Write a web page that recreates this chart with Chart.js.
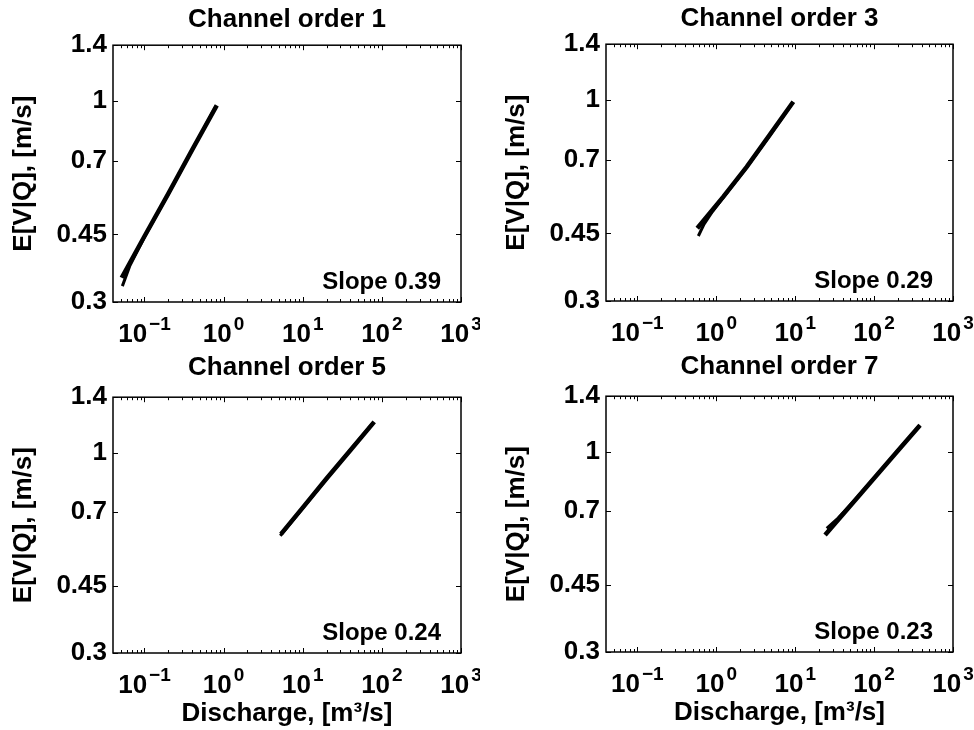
<!DOCTYPE html>
<html>
<head>
<meta charset="utf-8">
<script src="https://cdn.jsdelivr.net/npm/chart.js@4.4.0/dist/chart.umd.min.js"></script>
<style>
  html, body { margin: 0; padding: 0; background: #fff; overflow: hidden; }
  body { width: 974px; height: 730px; position: relative; }
  canvas { position: absolute; }
</style>
</head>
<body>
<canvas id="c1" width="480" height="365" style="left:0;top:0"></canvas>
<canvas id="c3" width="481" height="365" style="left:493px;top:-1px"></canvas>
<canvas id="c5" width="480" height="390" style="left:0;top:340px"></canvas>
<canvas id="c7" width="481" height="390" style="left:493px;top:339px"></canvas>
<script>
// data
var orders = [1, 3, 5, 7];
var slopes = ['0.39', '0.29', '0.24', '0.23'];

var xMin = 0.04, xMax = 1000;
var yMin = 0.3, yMax = 1.4;
var xTicks = [0.1, 1, 10, 100, 1000];
var xTickExp = ['\u22121', '0', '1', '2', '3'];
var yTicks = [0.3, 0.45, 0.7, 1, 1.4];
var yTickLabels = ['0.3', '0.45', '0.7', '1', '1.4'];

// order 1
var q1a = [0.0515, 0.1, 0.2, 0.4, 0.82];
var v1a = [0.347, 0.445, 0.575, 0.747, 0.976];
var q1b = [0.0525, 0.065, 0.1, 0.2, 0.4, 0.8];
var v1b = [0.330, 0.372, 0.443, 0.573, 0.746, 0.972];
// order 3
var q3a = [0.574, 1.23, 2.43, 4.8, 9.46];
var v3a = [0.464, 0.561, 0.671, 0.815, 0.991];
var q3b = [0.592, 0.7, 0.9, 1.23, 2.43, 4.8, 9.4];
var v3b = [0.443, 0.476, 0.514, 0.559, 0.669, 0.812, 0.988];
// order 5
var q5a = [5.3, 10, 20, 40, 80];
var v5a = [0.614, 0.72, 0.858, 1.017, 1.207];
var q5b = [5.2, 10, 20, 40, 78];
var v5b = [0.608, 0.717, 0.856, 1.019, 1.202];
// order 7
var q7a = [23.9, 50, 100, 200, 382];
var v7a = [0.607, 0.724, 0.854, 1.008, 1.176];
var q7b = [25.1, 35, 60, 100, 200, 380];
var v7b = [0.632, 0.672, 0.758, 0.856, 1.009, 1.176];

var FONT = "'Liberation Sans', Arial, Helvetica, sans-serif";
Chart.defaults.font.family = FONT;
Chart.defaults.color = '#000';

function pts(q, v) {
  return q.map(function (x, i) { return {x: x, y: v[i]}; });
}

// minor tick positions on the log x axis
var xMinor = [];
for (var d = -2; d <= 3; d++) {
  for (var m = 2; m <= 9; m++) {
    var t = m * Math.pow(10, d);
    if (t > xMin && t < xMax) xMinor.push(t);
  }
}

var frame = {
  id: 'frame',
  afterDatasetsDraw: function (chart, args, opts) {
    var ctx = chart.ctx, a = chart.chartArea;
    var xs = chart.scales.x, ys = chart.scales.y;
    ctx.save();
    ctx.strokeStyle = '#000';
    ctx.fillStyle = '#000';
    ctx.lineWidth = 1.5;
    ctx.strokeRect(a.left, a.top, a.right - a.left, a.bottom - a.top);

    ctx.lineWidth = 1;
    ctx.beginPath();
    xMinor.forEach(function (v) {
      var px = Math.round(xs.getPixelForValue(v)) + 0.5;
      ctx.moveTo(px, a.bottom); ctx.lineTo(px, a.bottom - 3);
      ctx.moveTo(px, a.top); ctx.lineTo(px, a.top + 3);
    });
    xTicks.forEach(function (v) {
      var px = Math.round(xs.getPixelForValue(v)) + 0.5;
      ctx.moveTo(px, a.bottom); ctx.lineTo(px, a.bottom - 5);
      ctx.moveTo(px, a.top); ctx.lineTo(px, a.top + 5);
    });
    yTicks.forEach(function (v) {
      var py = Math.round(ys.getPixelForValue(v)) + 0.5;
      ctx.moveTo(a.left, py); ctx.lineTo(a.left + 5, py);
      ctx.moveTo(a.right, py); ctx.lineTo(a.right - 5, py);
    });
    ctx.stroke();

    // x tick labels 10^n
    ctx.textAlign = 'left';
    ctx.textBaseline = 'alphabetic';
    xTicks.forEach(function (v, i) {
      var px = xs.getPixelForValue(v);
      ctx.font = 'bold 26px ' + FONT;
      var w1 = ctx.measureText('10').width;
      ctx.font = 'bold 19px ' + FONT;
      var w2 = ctx.measureText(xTickExp[i]).width;
      var x0 = px - (w1 + 2 + w2) / 2;
      var base = a.bottom + 40;
      ctx.font = 'bold 26px ' + FONT;
      ctx.fillText('10', x0, base);
      ctx.font = 'bold 19px ' + FONT;
      ctx.fillText(xTickExp[i], x0 + w1 + 2, base - 12);
    });

    ctx.font = 'bold 24px ' + FONT;
    ctx.textAlign = 'right';
    ctx.textBaseline = 'middle';
    ctx.fillText('Slope ' + opts.slope, a.right - 20, a.bottom - 19.5);
    ctx.restore();
  }
};

function makeChart(id, k, qa, va, qb, vb, bottomRow) {
  var ctx = document.getElementById(id).getContext('2d');
  return new Chart(ctx, {
    type: 'line',
    data: {
      datasets: [{
        data: pts(qa, va),
        borderColor: '#000',
        borderWidth: 4.5,
        pointRadius: 0,
        tension: 0,
        fill: false
      }, {
        data: pts(qb, vb),
        borderColor: '#000',
        borderWidth: 3,
        pointRadius: 0,
        tension: 0,
        fill: false
      }]
    },
    options: {
      responsive: false,
      animation: false,
      events: [],
      layout: { padding: { left: 0, right: id === 'c1' || id === 'c5' ? 19 : 21, top: 0, bottom: 0 } },
      plugins: {
        legend: { display: false },
        tooltip: { enabled: false },
        title: {
          display: true,
          fullSize: false,
          text: 'Channel order ' + orders[k],
          font: { size: 26, weight: 'bold' },
          color: '#000',
          padding: bottomRow ? { top: 12, bottom: 14 } : { top: 4, bottom: 10 }
        },
        frame: { slope: slopes[k] }
      },
      scales: {
        x: {
          type: 'logarithmic',
          min: xMin,
          max: xMax,
          grid: { display: false, drawTicks: false },
          border: { display: false },
          ticks: { display: false },
          afterBuildTicks: function (s) { s.ticks = xTicks.map(function (v) { return {value: v}; }); },
          afterFit: function (s) { s.height = bottomRow ? 77 : 63; },
          title: {
            display: bottomRow,
            text: 'Discharge, [m\u00B3/s]',
            font: { size: 26, weight: 'bold' },
            color: '#000',
            padding: { top: 0, bottom: 1 }
          }
        },
        y: {
          type: 'logarithmic',
          min: yMin,
          max: yMax,
          grid: { display: false, drawTicks: false },
          border: { display: false },
          afterBuildTicks: function (s) { s.ticks = yTicks.map(function (v) { return {value: v}; }); },
          afterFit: function (s) { s.width = 113; },
          ticks: {
            padding: 6,
            font: { size: 26, weight: 'bold' },
            color: '#000',
            callback: function (v) { return yTickLabels[yTicks.indexOf(v)]; }
          },
          title: {
            display: true,
            text: 'E[V|Q], [m/s]',
            font: { size: 26, weight: 'bold' },
            color: '#000',
            padding: { top: 8, bottom: 0 }
          }
        }
      }
    },
    plugins: [frame]
  });
}

makeChart('c1', 0, q1a, v1a, q1b, v1b, false);
makeChart('c3', 1, q3a, v3a, q3b, v3b, false);
makeChart('c5', 2, q5a, v5a, q5b, v5b, true);
makeChart('c7', 3, q7a, v7a, q7b, v7b, true);
</script>
</body>
</html>
